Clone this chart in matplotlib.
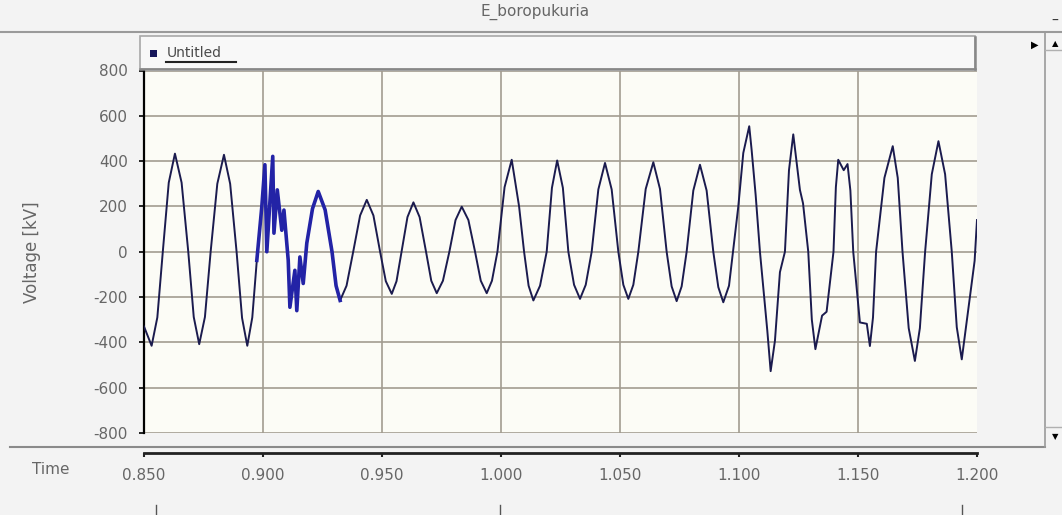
import numpy as np
import matplotlib
matplotlib.use("Agg")
import matplotlib.pyplot as plt
from matplotlib.patches import Rectangle
from matplotlib.lines import Line2D

plt.rcParams["axes.unicode_minus"] = False

# --- trace (time in s, voltage in kV) ---
time_s = [
    0.8500, 0.8532, 0.8556, 0.8579, 0.8604, 0.8630, 0.8658, 0.8686, 0.8709, 0.8732,
    0.8756, 0.8780, 0.8808, 0.8836, 0.8862, 0.8889, 0.8912, 0.8934, 0.8955, 0.8974,
    0.8995, 0.9008, 0.9016, 0.9041, 0.9046, 0.9060, 0.9079, 0.9088, 0.9106, 0.9113,
    0.9134, 0.9142, 0.9155, 0.9169, 0.9184, 0.9208, 0.9232, 0.9261, 0.9290, 0.9307,
    0.9324, 0.9351, 0.9379, 0.9408, 0.9436, 0.9464, 0.9492, 0.9516, 0.9541, 0.9561,
    0.9582, 0.9607, 0.9632, 0.9658, 0.9685, 0.9707, 0.9730, 0.9756, 0.9783, 0.9809,
    0.9835, 0.9863, 0.9891, 0.9915, 0.9940, 0.9962, 0.9985, 1.0015, 1.0045, 1.0055,
    1.0076, 1.0097, 1.0116, 1.0136, 1.0164, 1.0192, 1.0214, 1.0236, 1.0260, 1.0283,
    1.0307, 1.0332, 1.0356, 1.0381, 1.0409, 1.0437, 1.0465, 1.0493, 1.0514, 1.0535,
    1.0556, 1.0577, 1.0608, 1.0640, 1.0668, 1.0696, 1.0717, 1.0738, 1.0759, 1.0780,
    1.0808, 1.0836, 1.0864, 1.0892, 1.0913, 1.0934, 1.0958, 1.0982, 1.0997, 1.1018,
    1.1043, 1.1053, 1.1070, 1.1088, 1.1119, 1.1133, 1.1151, 1.1172, 1.1193, 1.1210,
    1.1228, 1.1256, 1.1269, 1.1291, 1.1306, 1.1321, 1.1349, 1.1368, 1.1397, 1.1407,
    1.1417, 1.1440, 1.1456, 1.1468, 1.1480, 1.1508, 1.1537, 1.1550, 1.1563, 1.1576,
    1.1611, 1.1646, 1.1667, 1.1687, 1.1713, 1.1739, 1.1760, 1.1782, 1.1810, 1.1838,
    1.1866, 1.1894, 1.1915, 1.1936, 1.1971, 1.1990, 1.2000,
]
voltage_kv = [
    -330, -415, -290, 0, 305, 433, 305, 0, -288, -408,
    -288, 0, 300, 428, 300, 0, -292, -415, -290, -38,
    199, 384, 0, 421, 82, 273, 95, 184, -38, -245,
    -82, -260, -23, -140, 38, 190, 266, 185, 0, -150,
    -215, -150, 0, 160, 229, 160, 0, -130, -186, -130,
    0, 153, 218, 153, 0, -128, -183, -128, 0, 140,
    199, 140, 0, -128, -183, -128, 0, 285, 406, 340,
    200, 0, -150, -215, -150, 0, 282, 403, 282, 0,
    -146, -208, -146, 0, 275, 392, 275, 0, -146, -208,
    -146, 0, 277, 395, 277, 0, -153, -218, -153, 0,
    270, 384, 270, 0, -156, -223, -150, 66, 199, 436,
    554, 450, 250, 0, -349, -527, -393, -90, 0, 360,
    518, 273, 214, 0, -300, -430, -282, -265, 0, 285,
    406, 360, 387, 270, 0, -312, -318, -416, -290, 0,
    326, 466, 326, 0, -337, -482, -337, 0, 342, 488,
    342, 0, -333, -475, -191, -40, 140,
]

x_ticks = [0.850, 0.900, 0.950, 1.000, 1.050, 1.100, 1.150, 1.200]
y_ticks = [-800, -600, -400, -200, 0, 200, 400, 600, 800]

W, H = 1062, 515
GRID = "#a29c90"
TXT = "#666666"


def fx(px):
    return px / W


def fy(py):
    return 1 - py / H


fig = plt.figure(figsize=(W / 100, H / 100), dpi=100)
fig.patch.set_facecolor("#f3f3f3")

# --- main plot area ---
left, right, top, bottom = 144, 977, 70.5, 433
ax = fig.add_axes([fx(left), fy(bottom), fx(right - left), (bottom - top) / H])
ax.set_facecolor("#fcfcf6")
ax.set_xlim(0.85, 1.2)
ax.set_ylim(-800, 800)
ax.set_xticks(x_ticks[:-1])   # no grid line on the right edge
ax.set_yticks(y_ticks)
ax.tick_params(axis="x", length=0, labelbottom=False)
ax.tick_params(axis="y", direction="out", length=3.6, width=1.2, color="black",
               labelsize=11, labelcolor=TXT, pad=8)
ax.grid(True, color=GRID, linewidth=1.2)
for s in ["top", "right", "bottom"]:
    ax.spines[s].set_visible(False)
ax.spines["left"].set_color("black")
ax.spines["left"].set_linewidth(1.6)
ax.set_ylabel("Voltage [kV]", fontsize=12, color=TXT, labelpad=38)

t = np.array(time_s)
v = np.array(voltage_kv)
ax.plot(t, v, color="#1b1b4e", linewidth=1.4, zorder=3)
# the fault transient is drawn denser / bluer in the screenshot
m = (t >= 0.8974) & (t <= 0.9324)
ax.plot(t[m], v[m], color="#2323a6", linewidth=2.6, zorder=4)

# --- separate time axis strip below ---
ax2 = fig.add_axes([fx(left), fy(453), fx(right - left), 0.001])
ax2.set_xlim(0.85, 1.2)
ax2.set_facecolor("none")
ax2.set_yticks([])
for s in ["top", "right", "left"]:
    ax2.spines[s].set_visible(False)
ax2.spines["bottom"].set_linewidth(2)
ax2.spines["bottom"].set_color("#222222")
ax2.set_xticks(x_ticks)
ax2.set_xticklabels([f"{x:.3f}" for x in x_ticks])
ax2.tick_params(axis="x", direction="out", length=3, width=1.5, color="#222222",
                labelsize=11, labelcolor=TXT, pad=8)
fig.text(fx(51), fy(469), "Time", fontsize=11, color=TXT, ha="center", va="center")

# --- window chrome: title bar, legend strip, scroll bar ---
fig.text(fx(535), fy(12), "E_boropukuria", fontsize=11, color=TXT, ha="center", va="center")
fig.add_artist(Line2D([0, 1], [fy(32), fy(32)], color="#9a9a9a", linewidth=1.5))
fig.add_artist(Line2D([fx(10), fx(1045)], [fy(447), fy(447)], color="#8a8a8a", linewidth=1.5))

fig.add_artist(Rectangle((fx(140), fy(69)), fx(975 - 140), (69 - 36) / H,
                         facecolor="#f8f8f8", edgecolor="#a8a8a8", linewidth=1.2))
fig.add_artist(Line2D([fx(140), fx(975)], [fy(69), fy(69)], color="#888888", linewidth=1.8))
fig.add_artist(Line2D([fx(975), fx(975)], [fy(69), fy(37)], color="#888888", linewidth=1.8))
fig.add_artist(Rectangle((fx(150), fy(57)), fx(7), 7 / H, facecolor="#16165a", edgecolor="none"))
fig.text(fx(167), fy(53), "Untitled", fontsize=10, color="#4a4a4a", ha="left", va="center")
fig.add_artist(Line2D([fx(166), fx(236)], [fy(62), fy(62)], color="#222222", linewidth=1.5))

fig.add_artist(Line2D([fx(1045), fx(1045)], [fy(32), fy(447)], color="#9a9a9a", linewidth=1.2))
fig.add_artist(Line2D([fx(1045), fx(1062)], [fy(50), fy(50)], color="#b0b0b0", linewidth=1))
fig.add_artist(Line2D([fx(1045), fx(1062)], [fy(427), fy(427)], color="#b0b0b0", linewidth=1))
fig.text(fx(1055), fy(44), "\u25b2", fontsize=6, color="black", ha="center", va="center")
fig.text(fx(1055), fy(437), "\u25bc", fontsize=6, color="black", ha="center", va="center")
fig.text(fx(1055), fy(21), "\u2013", fontsize=10, color="#333333", ha="center", va="center")
fig.text(fx(1035), fy(45), "\u25b6", fontsize=7, color="black", ha="center", va="center")

# bits of the next panel peeking in at the bottom
for px in [156, 500, 962]:
    fig.add_artist(Line2D([fx(px), fx(px)], [fy(505), fy(515)], color="#555555", linewidth=1))

fig.savefig("out.png", dpi=100, facecolor=fig.get_facecolor())
